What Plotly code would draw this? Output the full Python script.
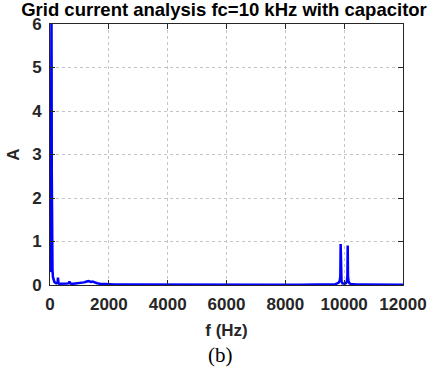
import plotly.graph_objects as go

# Spectrum data
freq_hz = [0, 15, 30, 40, 45, 50, 55, 60, 70, 85, 100, 120, 150, 180, 210, 240, 260,
           270, 280, 290, 310, 350, 400, 450, 500, 550, 600, 640, 660, 680, 720, 800,
           900, 1000, 1100, 1150, 1200, 1250, 1300, 1350, 1400, 1450, 1500, 1550, 1600,
           1700, 1800, 1900, 2000, 2200, 2500, 3000, 3500, 4000, 4500, 5000, 5500, 6000,
           6500, 7000, 7500, 8000, 8500, 9000, 9400, 9600, 9700, 9780, 9820, 9850, 9870,
           9880, 9890, 9910, 9940, 9980, 10020, 10060, 10090, 10110, 10120, 10130, 10150,
           10180, 10220, 10300, 10400, 10600, 11000, 11500, 12000]
amp_a = [0.30, 0.34, 1.2, 3.5, 5.6, 6.3, 5.0, 2.6, 0.9, 0.35, 0.18, 0.11, 0.07, 0.05,
         0.04, 0.05, 0.07, 0.17, 0.06, 0.04, 0.03, 0.03, 0.025, 0.03, 0.025, 0.03, 0.035,
         0.05, 0.08, 0.04, 0.03, 0.03, 0.035, 0.04, 0.05, 0.06, 0.07, 0.08, 0.09, 0.08,
         0.07, 0.08, 0.06, 0.05, 0.04, 0.03, 0.025, 0.02, 0.015, 0.012, 0.01, 0.008, 0.007,
         0.007, 0.006, 0.006, 0.006, 0.006, 0.006, 0.006, 0.007, 0.007, 0.008, 0.01, 0.012,
         0.015, 0.02, 0.04, 0.06, 0.10, 0.20, 0.94, 0.20, 0.08, 0.04, 0.03, 0.03, 0.04,
         0.08, 0.20, 0.91, 0.20, 0.08, 0.04, 0.025, 0.015, 0.012, 0.01, 0.008, 0.007, 0.006]

x_ticks = [0, 2000, 4000, 6000, 8000, 10000, 12000]
y_ticks = [0, 1, 2, 3, 4, 5, 6]

fig = go.Figure()
fig.add_trace(go.Scatter(x=freq_hz, y=amp_a, mode="lines",
                         line=dict(color="#0000ff", width=2.5), showlegend=False))

axis_common = dict(
    showline=True, linecolor="#262626", linewidth=1, mirror="ticks",
    ticks="inside", ticklen=5, tickcolor="#262626",
    showgrid=True, gridcolor="#c4c4c4", griddash="dot", gridwidth=1,
    zeroline=False,
    tickfont=dict(family="Liberation Sans", size=17, color="#262626", weight="bold"),
)

fig.update_layout(
    width=441, height=372,
    margin=dict(l=46, r=38, t=24, b=87),
    paper_bgcolor="white", plot_bgcolor="white",
    title=dict(text="<b>Grid current analysis fc=10 kHz with capacitor</b>",
               font=dict(family="Liberation Sans", size=18.5, color="black"),
               x=224 / 441, xanchor="center", xref="container",
               y=1 - 9.5 / 372, yanchor="middle", yref="container"),
    xaxis=dict(range=[0, 12000], tickvals=x_ticks, ticktext=[str(v) for v in x_ticks],
               ticklabelstandoff=4,
               title=dict(text="<b>f (Hz)</b>", standoff=10,
                          font=dict(family="Liberation Sans", size=17, color="#262626")),
               **axis_common),
    yaxis=dict(range=[0, 6], tickvals=y_ticks, ticktext=[str(v) for v in y_ticks],
               ticklabelstandoff=4,
               title=dict(text="<b>A</b>", standoff=8,
                          font=dict(family="Liberation Sans", size=17, color="#262626")),
               **axis_common),
    annotations=[dict(text="(b)", xref="paper", yref="paper",
                      x=(218 - 46) / 357, y=-(355 - 285) / 261,
                      xanchor="center", yanchor="middle", showarrow=False,
                      font=dict(family="Liberation Serif", size=21, color="black"))],
)

fig.write_html("out.html")
